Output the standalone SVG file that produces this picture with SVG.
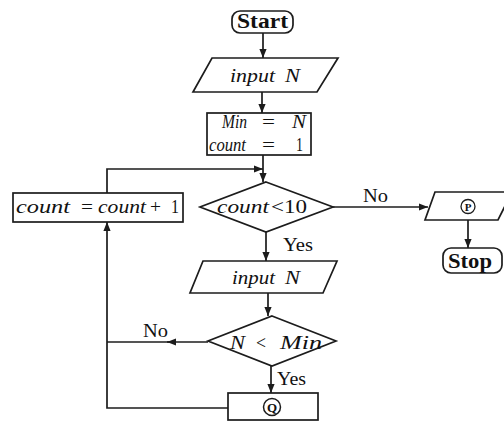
<svg xmlns="http://www.w3.org/2000/svg" width="504" height="423" viewBox="0 0 504 423">
<style>
.s{fill:none;stroke:#1c1c1c;stroke-width:1.7}
.b{fill:#fff;stroke:#1c1c1c;stroke-width:1.7}
text{font-family:"Liberation Serif",serif;font-size:19px;fill:#111}
.i{font-style:italic}
.bd{font-weight:bold;font-size:20px}
.m{text-anchor:middle}
.c{font-size:13px;font-weight:bold;text-anchor:middle}
</style>
<defs>
<marker id="a" viewBox="0 0 10 10" refX="10" refY="5" markerWidth="10" markerHeight="9" orient="auto" markerUnits="userSpaceOnUse">
<path d="M0,1 L10,5 L0,9 Z" fill="#1c1c1c"/>
</marker>
</defs>
<rect width="504" height="423" fill="#fff"/>
<g id="connectors">
<path class="s" d="M263,33 V58" marker-end="url(#a)"/>
<path class="s" d="M262,92 V113" marker-end="url(#a)"/>
<path class="s" d="M263,155 V182" marker-end="url(#a)"/>
<path class="s" d="M107,193 V169 H263" marker-end="url(#a)"/>
<path class="s" d="M333,207 H428" marker-end="url(#a)"/>
<path class="s" d="M468,220 V248" marker-end="url(#a)"/>
<path class="s" d="M266,232 V261" marker-end="url(#a)"/>
<path class="s" d="M268,293 V316" marker-end="url(#a)"/>
<path class="s" d="M271,366 V393" marker-end="url(#a)"/>
<path class="s" d="M208,342 H167" marker-end="url(#a)"/>
<path class="s" d="M172,342 H107"/>
<path class="s" d="M228,408 H107 V222" marker-end="url(#a)"/>
<text x="363" y="202" textLength="25" lengthAdjust="spacingAndGlyphs">No</text>
<text x="283" y="251" textLength="30" lengthAdjust="spacingAndGlyphs">Yes</text>
<text x="143" y="337" textLength="25" lengthAdjust="spacingAndGlyphs">No</text>
<text x="277" y="385" textLength="29" lengthAdjust="spacingAndGlyphs">Yes</text>
</g>
<g id="start">
<rect class="b" x="232" y="11" width="61" height="22" rx="8"/>
<text x="237" y="28" class="bd" textLength="51" lengthAdjust="spacingAndGlyphs">Start</text>
</g>
<g id="input1">
<polygon class="b" points="212,58 338,58 317,92 193,92"/>
<text x="230" y="82" class="i" textLength="45" lengthAdjust="spacingAndGlyphs">input</text>
<text x="285" y="82" class="i" textLength="15" lengthAdjust="spacingAndGlyphs">N</text>
</g>
<g id="init">
<rect class="b" x="207" y="113" width="104" height="42"/>
<text x="222" y="128" class="i" textLength="25" lengthAdjust="spacingAndGlyphs">Min</text>
<text x="262" y="128" textLength="13" lengthAdjust="spacingAndGlyphs">=</text>
<text x="292" y="128" class="i" textLength="14" lengthAdjust="spacingAndGlyphs">N</text>
<text x="209" y="151" class="i" textLength="37" lengthAdjust="spacingAndGlyphs">count</text>
<text x="262" y="151" textLength="13" lengthAdjust="spacingAndGlyphs">=</text>
<text x="296" y="151" textLength="7" lengthAdjust="spacingAndGlyphs">1</text>
</g>
<g id="decision1">
<polygon class="b" points="266,182 333,207 266,232 200,207"/>
<text x="217" y="213" class="i" textLength="52" lengthAdjust="spacingAndGlyphs">count</text>
<text x="271" y="213" textLength="36" lengthAdjust="spacingAndGlyphs">&lt;10</text>
</g>
<g id="increment">
<rect class="b" x="13" y="193" width="170" height="29"/>
<text x="16" y="213" class="i" textLength="54" lengthAdjust="spacingAndGlyphs">count</text>
<text x="81" y="213" textLength="12" lengthAdjust="spacingAndGlyphs">=</text>
<text x="98" y="213" class="i" textLength="48" lengthAdjust="spacingAndGlyphs">count</text>
<text x="150" y="213" textLength="11" lengthAdjust="spacingAndGlyphs">+</text>
<text x="171" y="213" textLength="8" lengthAdjust="spacingAndGlyphs">1</text>
</g>
<g id="outputP">
<polygon class="b" points="435,192 512,192 498,220 425,220"/>
<circle cx="468" cy="206.5" r="7" fill="none" stroke="#1c1c1c" stroke-width="1.3"/>
<text x="468" y="211" class="c" style="font-size:11px">P</text>
</g>
<g id="stop">
<rect class="b" x="443" y="248" width="59" height="25" rx="8"/>
<text x="448" y="268" class="bd" textLength="44" lengthAdjust="spacingAndGlyphs">Stop</text>
</g>
<g id="input2">
<polygon class="b" points="203,261 337,261 323,293 190,293"/>
<text x="232" y="284" class="i" textLength="43" lengthAdjust="spacingAndGlyphs">input</text>
<text x="285" y="284" class="i" textLength="15" lengthAdjust="spacingAndGlyphs">N</text>
</g>
<g id="decision2">
<polygon class="b" points="272,316 336,341 272,366 208,341"/>
<text x="230" y="349" class="i" textLength="15" lengthAdjust="spacingAndGlyphs">N</text>
<text x="256" y="349" textLength="10" lengthAdjust="spacingAndGlyphs">&lt;</text>
<text x="280" y="349" class="i" textLength="42" lengthAdjust="spacingAndGlyphs">Min</text>
</g>
<g id="boxQ">
<rect class="b" x="228" y="393" width="90" height="27"/>
<circle cx="272" cy="407" r="8.5" fill="none" stroke="#1c1c1c" stroke-width="1.5"/>
<text x="272" y="411.5" class="c">Q</text>
</g>
</svg>
